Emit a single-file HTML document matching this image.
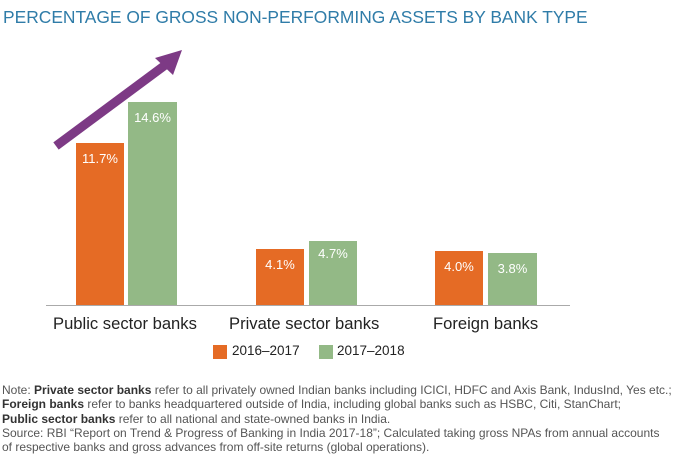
<!DOCTYPE html>
<html><head><style>
body{margin:0;width:678px;height:462px;background:#fff;font-family:"Liberation Sans",sans-serif;position:relative;overflow:hidden}
.t{position:absolute;left:3px;top:7px;font-size:17.4px;color:#2f7ca8;white-space:nowrap}
.b{position:absolute;color:#fff;font-size:13px;text-align:center;padding-top:8px;box-sizing:border-box}
.o{background:#e56b25}.g{background:#93b986}
.l{position:absolute;top:314px;font-size:16.6px;color:#222;white-space:nowrap}
.n{position:absolute;left:2px;top:383px;font-size:12px;line-height:14.3px;color:#555;white-space:nowrap}
.n b{color:#333}
</style></head><body>
<div class="t">PERCENTAGE OF GROSS NON-PERFORMING ASSETS BY BANK TYPE</div>
<div class="b o" style="left:76px;top:143px;width:48px;height:163px">11.7%</div>
<div class="b g" style="left:128px;top:102px;width:49px;height:204px">14.6%</div>
<div class="b o" style="left:256px;top:249px;width:48px;height:57px">4.1%</div>
<div class="b g" style="left:309px;top:241px;width:48px;height:65px;padding-top:5px">4.7%</div>
<div class="b o" style="left:435px;top:251px;width:48px;height:55px">4.0%</div>
<div class="b g" style="left:488px;top:253px;width:49px;height:53px">3.8%</div>
<div style="position:absolute;left:46px;top:305px;width:524px;height:1px;background:#aaa"></div>
<svg style="position:absolute;left:0;top:0" width="678" height="462">
<line x1="56" y1="146" x2="172" y2="60" stroke="#7d3a85" stroke-width="9"/>
<polygon points="182,50 155,58 173,75" fill="#7d3a85"/>
</svg>
<div class="l" style="left:53px">Public sector banks</div>
<div class="l" style="left:229px">Private sector banks</div>
<div class="l" style="left:433px">Foreign banks</div>
<div style="position:absolute;left:213px;top:345px;width:14px;height:14px;background:#e56b25"></div>
<div style="position:absolute;left:232px;top:343px;font-size:13.5px;color:#222">2016–2017</div>
<div style="position:absolute;left:319px;top:345px;width:14px;height:14px;background:#93b986"></div>
<div style="position:absolute;left:337px;top:343px;font-size:13.5px;color:#222">2017–2018</div>
<div class="n">Note: <b>Private sector banks</b> refer to all privately owned Indian banks including ICICI, HDFC and Axis Bank, IndusInd, Yes etc.;<br><b>Foreign banks</b> refer to banks headquartered outside of India, including global banks such as HSBC, Citi, StanChart;<br><b>Public sector banks</b> refer to all national and state-owned banks in India.<br>Source: RBI “Report on Trend &amp; Progress of Banking in India 2017-18”; Calculated taking gross NPAs from annual accounts<br>of respective banks and gross advances from off-site returns (global operations).</div>
</body></html>
